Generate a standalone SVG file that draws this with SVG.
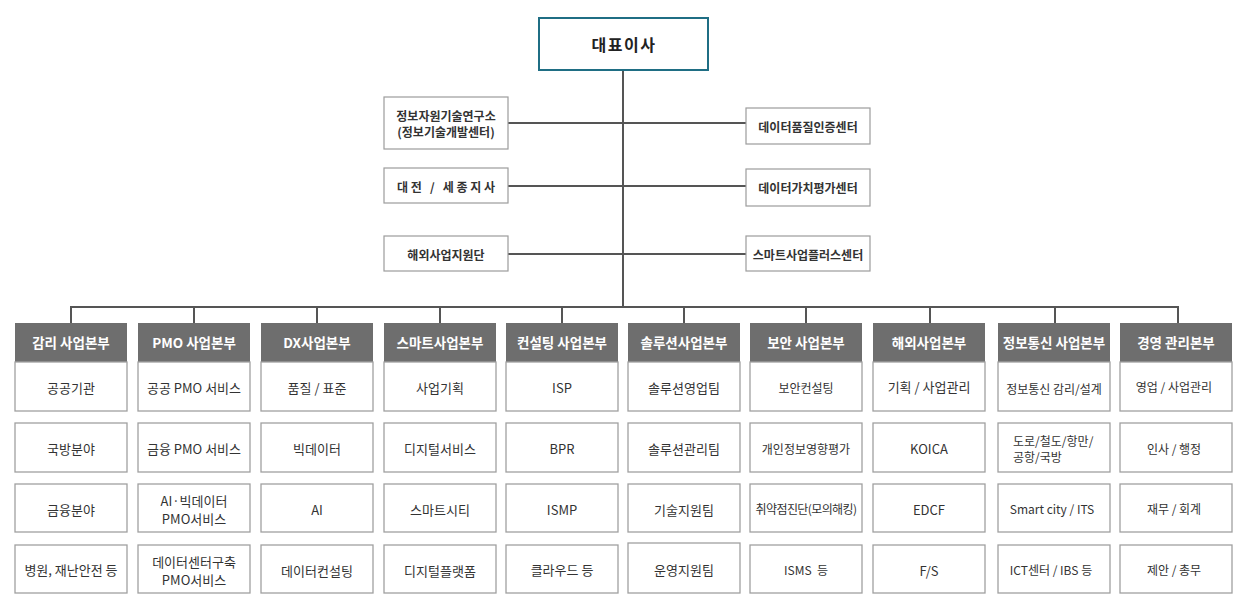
<svg xmlns="http://www.w3.org/2000/svg" width="1246" height="609" viewBox="0 0 1246 609">
<style>
text{font-family:"Noto Sans CJK KR","Noto Sans",sans-serif;text-anchor:middle;dominant-baseline:central;fill:#333}
.st{text-anchor:start}
.ceo{fill:#fff;stroke:#1f6e84;stroke-width:2}
.ceot{font-size:16px;font-weight:bold;letter-spacing:1.5px;fill:#222}
.sub{fill:#fff;stroke:#9c9c9c;stroke-width:1.2}
.subt{font-size:12px;font-weight:bold;fill:#333}
.hd{fill:#6e6e6e}
.hdt{font-size:13.5px;font-weight:bold;fill:#fff}
.it{fill:#fff;stroke:#a0a0a0;stroke-width:1.3}
.itt{font-size:13px;fill:#333}
.sm{font-size:12px}
.ln{stroke:#555;stroke-width:2;fill:none}
</style>
<g id="connectors">
<path class="ln" d="M623 70V307M508 123H746M508 186H746M508 254H746M71 307H1178M71 306V323M194 306V323M317 306V323M440 306V323M562 306V323M684 306V323M806 306V323M930 306V323M1055 306V323M1178 306V323"/>
</g>
<g id="ceo"><rect class="ceo" x="539" y="18" width="169" height="52"/><text class="ceot" x="624" y="44">대표이사</text></g>
<g id="lab1"><rect class="sub" x="384" y="97" width="124" height="52"/><text class="subt" x="446" y="115">정보자원기술연구소</text><text class="subt" x="446" y="131">(정보기술개발센터)</text></g>
<g id="branch"><rect class="sub" x="384" y="168" width="124" height="35"/><text class="subt" x="446" y="186" xml:space="preserve">대 전   /   세 종 지 사</text></g>
<g id="overseas"><rect class="sub" x="384" y="236" width="124" height="35"/><text class="subt" x="446" y="254">해외사업지원단</text></g>
<g id="dq"><rect class="sub" x="746" y="108" width="124" height="36"/><text class="subt" x="808" y="126">데이터품질인증센터</text></g>
<g id="dv"><rect class="sub" x="746" y="169" width="124" height="37"/><text class="subt" x="808" y="187">데이터가치평가센터</text></g>
<g id="sp"><rect class="sub" x="746" y="236" width="124" height="35"/><text class="subt" x="808" y="254">스마트사업플러스센터</text></g>

<g id="col1">
<rect class="hd" x="15" y="323" width="112" height="39"/><text class="hdt" x="71" y="342">감리 사업본부</text>
<rect class="it" x="15" y="362" width="112" height="49"/><text class="itt" x="71" y="387">공공기관</text>
<rect class="it" x="15" y="423" width="112" height="49"/><text class="itt" x="71" y="448">국방분야</text>
<rect class="it" x="15" y="484" width="112" height="48"/><text class="itt" x="71" y="509">금융분야</text>
<rect class="it" x="15" y="545" width="112" height="48"/><text class="itt" x="71" y="569">병원, 재난안전 등</text>
</g>
<g id="col2">
<rect class="hd" x="138" y="323" width="112" height="39"/><text class="hdt" x="194" y="342">PMO 사업본부</text>
<rect class="it" x="138" y="362" width="112" height="49"/><text class="itt" x="194" y="387">공공 PMO 서비스</text>
<rect class="it" x="138" y="423" width="112" height="49"/><text class="itt" x="194" y="448">금융 PMO 서비스</text>
<rect class="it" x="138" y="484" width="112" height="48"/><text class="itt" x="194" y="500">AI·빅데이터</text><text class="itt" x="194" y="518">PMO서비스</text>
<rect class="it" x="138" y="545" width="112" height="48"/><text class="itt" x="194" y="561">데이터센터구축</text><text class="itt" x="194" y="579">PMO서비스</text>
</g>
<g id="col3">
<rect class="hd" x="261" y="323" width="112" height="39"/><text class="hdt" x="317" y="342">DX사업본부</text>
<rect class="it" x="261" y="362" width="112" height="49"/><text class="itt" x="317" y="387">품질 / 표준</text>
<rect class="it" x="261" y="423" width="112" height="49"/><text class="itt" x="317" y="448">빅데이터</text>
<rect class="it" x="261" y="484" width="112" height="48"/><text class="itt" x="317" y="509">AI</text>
<rect class="it" x="261" y="545" width="112" height="48"/><text class="itt" x="317" y="570">데이터컨설팅</text>
</g>
<g id="col4">
<rect class="hd" x="384" y="323" width="112" height="39"/><text class="hdt" x="440" y="342">스마트사업본부</text>
<rect class="it" x="384" y="362" width="112" height="49"/><text class="itt" x="440" y="387">사업기획</text>
<rect class="it" x="384" y="423" width="112" height="49"/><text class="itt" x="440" y="448">디지털서비스</text>
<rect class="it" x="384" y="484" width="112" height="48"/><text class="itt" x="440" y="509">스마트시티</text>
<rect class="it" x="384" y="545" width="112" height="48"/><text class="itt" x="440" y="570">디지털플랫폼</text>
</g>
<g id="col5">
<rect class="hd" x="506" y="323" width="112" height="39"/><text class="hdt" x="562" y="342">컨설팅 사업본부</text>
<rect class="it" x="506" y="362" width="112" height="49"/><text class="itt" x="562" y="387">ISP</text>
<rect class="it" x="506" y="423" width="112" height="49"/><text class="itt" x="562" y="448">BPR</text>
<rect class="it" x="506" y="484" width="112" height="48"/><text class="itt" x="562" y="509">ISMP</text>
<rect class="it" x="506" y="545" width="112" height="48"/><text class="itt" x="562" y="569">클라우드 등</text>
</g>
<g id="col6">
<rect class="hd" x="628" y="323" width="112" height="39"/><text class="hdt" x="684" y="342">솔루션사업본부</text>
<rect class="it" x="628" y="362" width="112" height="49"/><text class="itt" x="684" y="387">솔루션영업팀</text>
<rect class="it" x="628" y="423" width="112" height="49"/><text class="itt" x="684" y="448">솔루션관리팀</text>
<rect class="it" x="628" y="484" width="112" height="48"/><text class="itt" x="684" y="509">기술지원팀</text>
<rect class="it" x="628" y="543" width="112" height="50"/><text class="itt" x="684" y="569">운영지원팀</text>
</g>
<g id="col7">
<rect class="hd" x="750" y="323" width="112" height="39"/><text class="hdt" x="806" y="342">보안 사업본부</text>
<rect class="it" x="750" y="362" width="112" height="49"/><text class="itt sm" x="806" y="387">보안컨설팅</text>
<rect class="it" x="750" y="423" width="112" height="49"/><text class="itt sm" x="806" y="448">개인정보영향평가</text>
<rect class="it" x="750" y="484" width="112" height="48"/><text class="itt sm" x="806" y="508" letter-spacing="-0.6">취약점진단(모의해킹)</text>
<rect class="it" x="750" y="545" width="112" height="48"/><text class="itt sm" x="806" y="569" xml:space="preserve">ISMS  등</text>
</g>
<g id="col8">
<rect class="hd" x="873" y="323" width="112" height="39"/><text class="hdt" x="929" y="342">해외사업본부</text>
<rect class="it" x="873" y="362" width="112" height="49"/><text class="itt" x="929" y="386">기획 / 사업관리</text>
<rect class="it" x="873" y="423" width="112" height="49"/><text class="itt" x="929" y="448" font-size="14">KOICA</text>
<rect class="it" x="873" y="484" width="112" height="48"/><text class="itt" x="929" y="509" font-size="14">EDCF</text>
<rect class="it" x="873" y="545" width="112" height="48"/><text class="itt" x="929" y="570" font-size="14">F/S</text>
</g>
<g id="col9">
<rect class="hd" x="998" y="323" width="112" height="39"/><text class="hdt" x="1054" y="342">정보통신 사업본부</text>
<rect class="it" x="998" y="362" width="112" height="49"/><text class="itt sm" x="1054" y="388">정보통신 감리/설계</text>
<rect class="it" x="998" y="423" width="112" height="49"/><text class="itt sm st" x="1013" y="440">도로/철도/항만/</text><text class="itt sm st" x="1013" y="456">공항/국방</text>
<rect class="it" x="998" y="484" width="112" height="48"/><text class="itt sm" x="1052" y="508">Smart city / ITS</text>
<rect class="it" x="998" y="545" width="112" height="48"/><text class="itt sm" x="1051" y="569">ICT센터 / IBS 등</text>
</g>
<g id="col10">
<rect class="hd" x="1120" y="323" width="112" height="39"/><text class="hdt" x="1176" y="342">경영 관리본부</text>
<rect class="it" x="1120" y="362" width="112" height="49"/><text class="itt sm" x="1174" y="386">영업 / 사업관리</text>
<rect class="it" x="1120" y="423" width="112" height="49"/><text class="itt sm" x="1174" y="448">인사 / 행정</text>
<rect class="it" x="1120" y="484" width="112" height="48"/><text class="itt sm" x="1174" y="508">재무 / 회계</text>
<rect class="it" x="1120" y="545" width="112" height="48"/><text class="itt sm" x="1174" y="569">제안 / 총무</text>
</g>
</svg>
